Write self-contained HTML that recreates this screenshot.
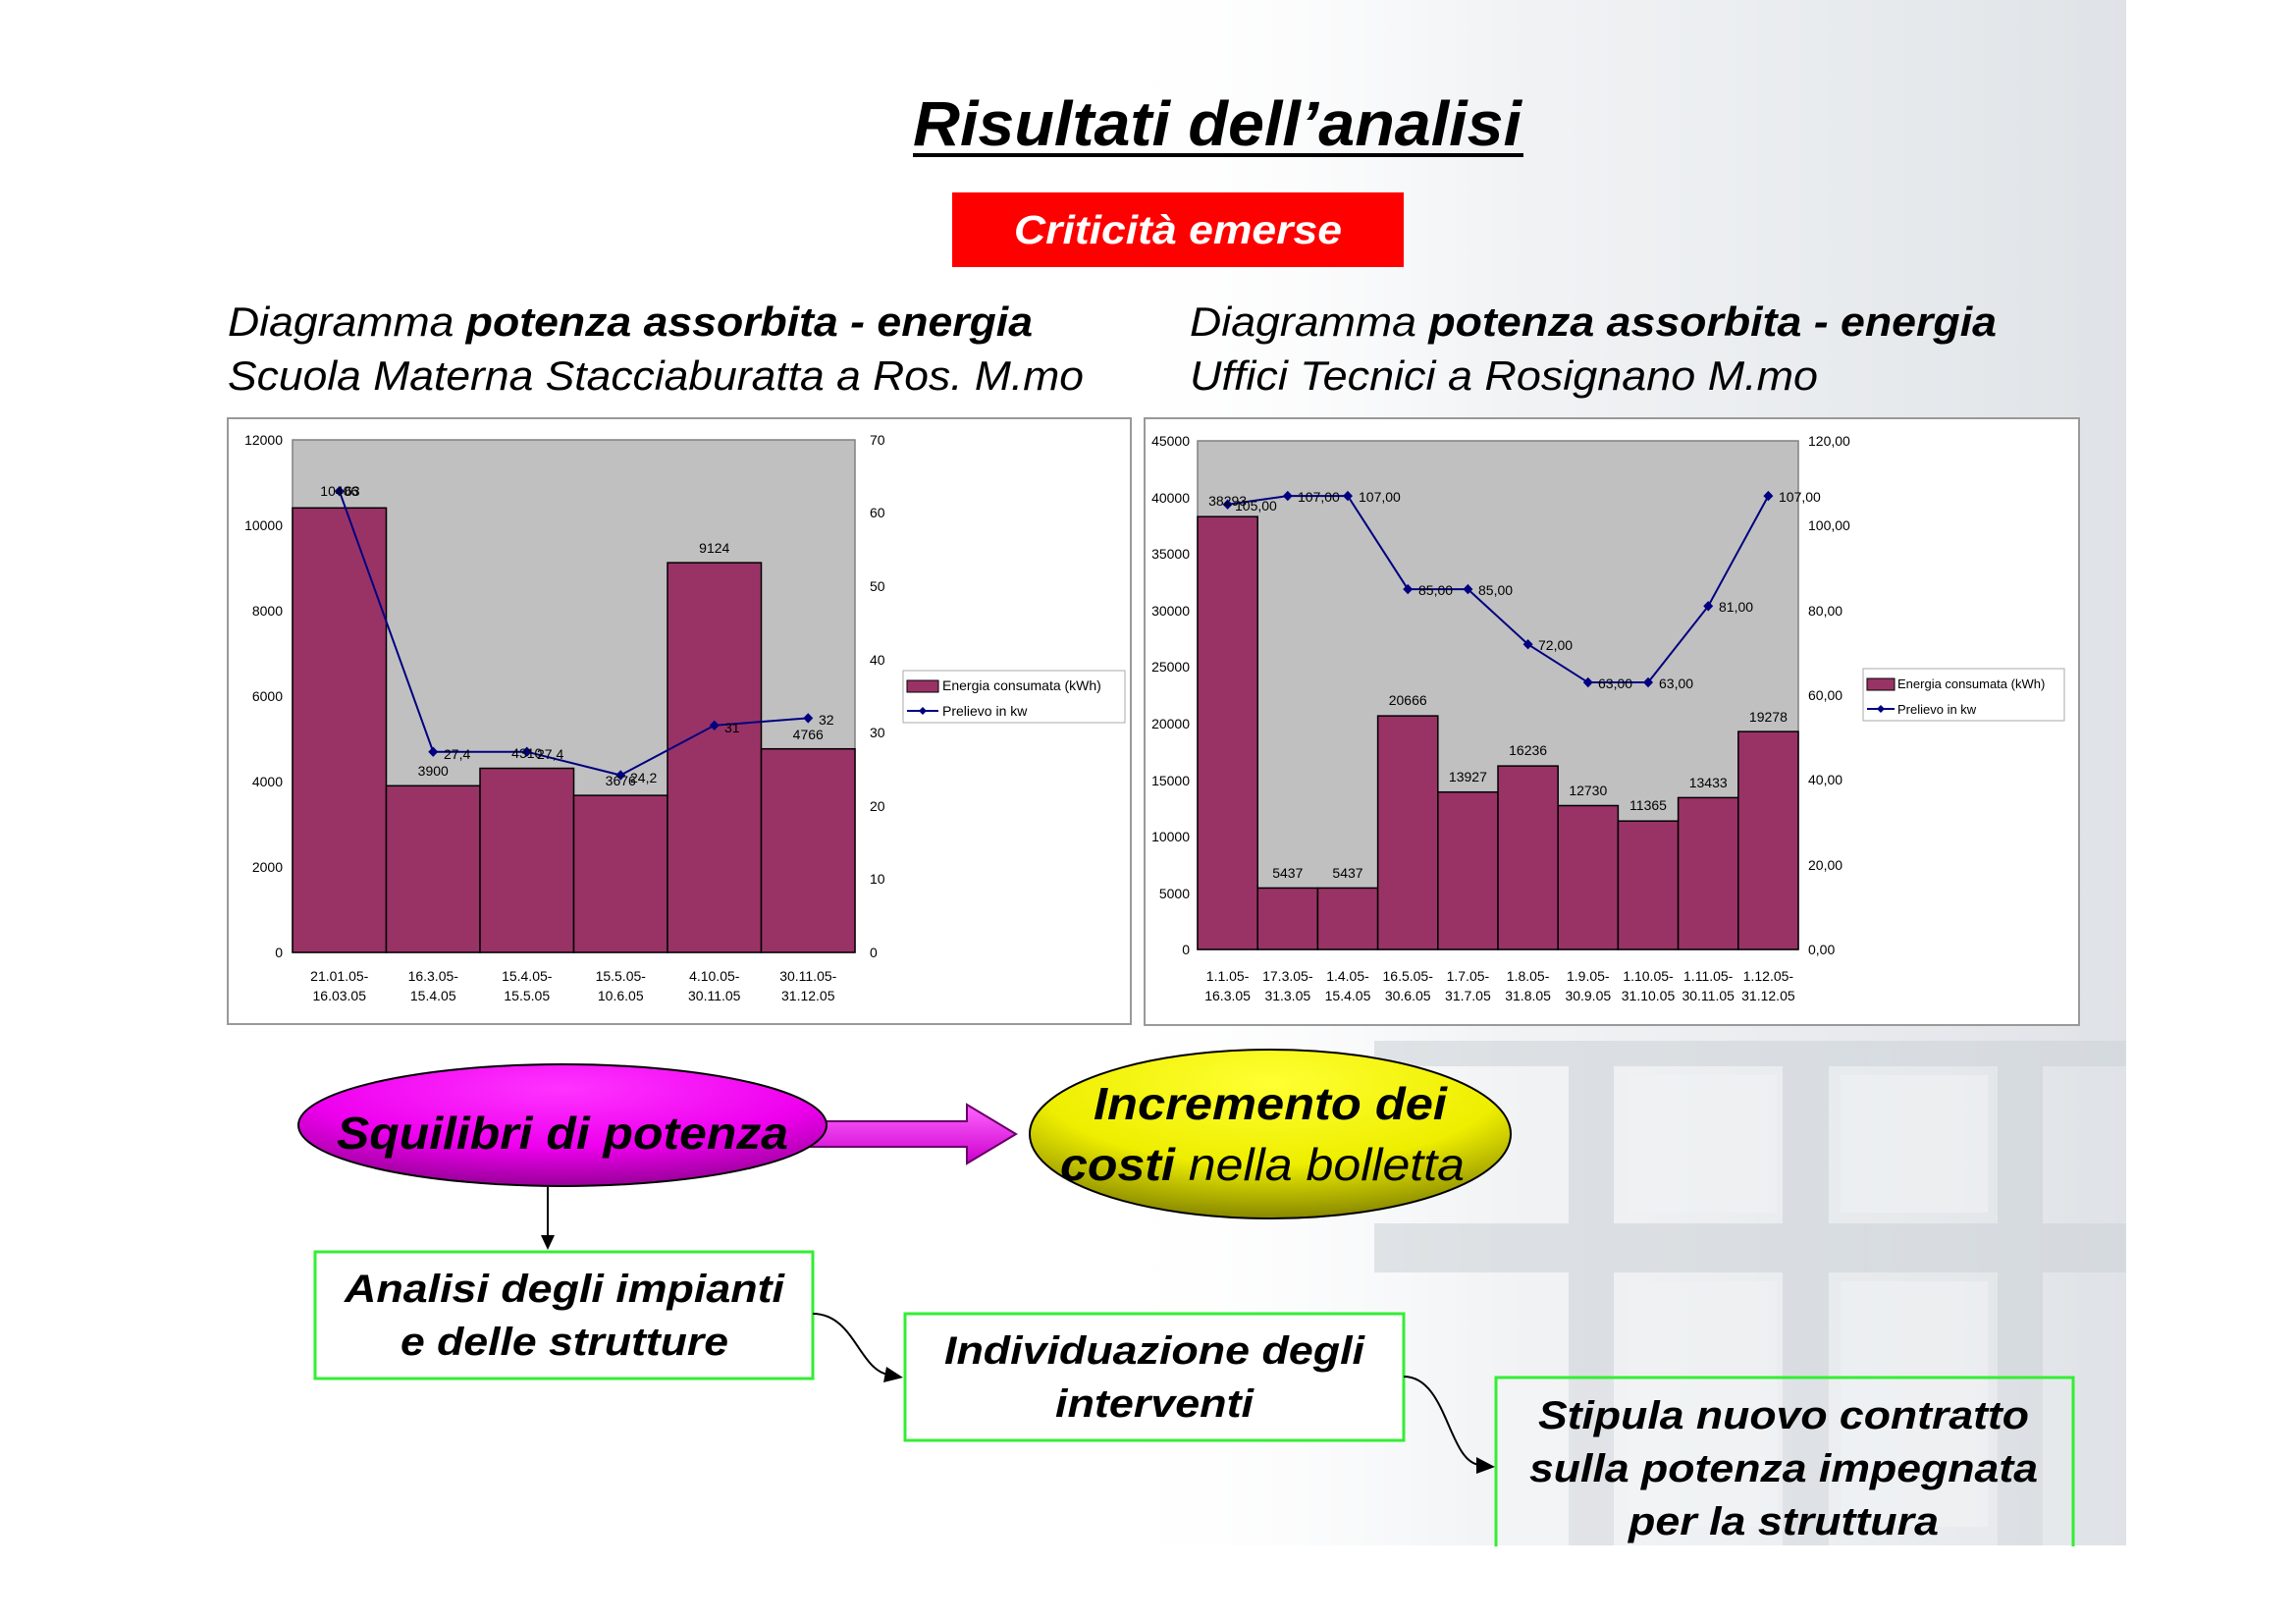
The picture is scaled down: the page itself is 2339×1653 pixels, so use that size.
<!DOCTYPE html>
<html><head><meta charset="utf-8"><style>
html,body{margin:0;padding:0;background:#fff;}
svg{display:block;font-family:"Liberation Sans",Arial,sans-serif;}
</style></head><body>
<svg width="2339" height="1653" viewBox="0 0 2339 1653" xmlns="http://www.w3.org/2000/svg">
<defs>
<linearGradient id="bgfade" x1="0" y1="0" x2="1" y2="0">
<stop offset="0" stop-color="#fff" stop-opacity="0"/>
<stop offset="0.4" stop-color="#e8ebee" stop-opacity="0.6"/>
<stop offset="1" stop-color="#dfe3e7" stop-opacity="1"/>
</linearGradient>
<radialGradient id="mag" cx="0.5" cy="0.2" r="0.8">
<stop offset="0" stop-color="#ff33ff"/><stop offset="0.6" stop-color="#ee00ee"/><stop offset="1" stop-color="#990099"/>
</radialGradient>
<radialGradient id="yel" cx="0.5" cy="0.2" r="0.8">
<stop offset="0" stop-color="#ffff33"/><stop offset="0.6" stop-color="#eeee00"/><stop offset="1" stop-color="#888800"/>
</radialGradient>
<linearGradient id="arr" x1="0" y1="0" x2="0" y2="1">
<stop offset="0" stop-color="#ff66ff"/><stop offset="1" stop-color="#cc00cc"/>
</linearGradient>
</defs>
<rect x="0" y="0" width="2339" height="1653" fill="#fff"/>
<rect x="1100" y="0" width="1066" height="1574" fill="url(#bgfade)"/>
<g fill="#cfd4d9" opacity="0.6">
<rect x="1598" y="1060" width="46" height="514"/>
<rect x="1816" y="1060" width="47" height="514"/>
<rect x="2035" y="1060" width="46" height="514"/>
<rect x="1400" y="1246" width="766" height="50"/>
<rect x="1400" y="1060" width="766" height="26"/>
</g>
<g fill="#f0f2f4" opacity="0.6">
<rect x="1660" y="1095" width="150" height="140"/>
<rect x="1875" y="1095" width="150" height="140"/>
<rect x="1660" y="1305" width="150" height="250"/>
<rect x="1875" y="1305" width="150" height="250"/>
</g>

<text x="1240" y="148" font-size="64" font-weight="bold" font-style="italic" text-anchor="middle" fill="#000" textLength="620" lengthAdjust="spacingAndGlyphs">Risultati dell’analisi</text>
<rect x="930" y="156" width="622" height="4" fill="#000"/>
<rect x="970" y="196" width="460" height="76" fill="#ff0000"/>
<text x="1200" y="248" font-size="41" font-weight="bold" font-style="italic" text-anchor="middle" fill="#fff" textLength="334" lengthAdjust="spacingAndGlyphs">Criticità emerse</text>

<g font-size="42" font-style="italic" fill="#000">
<text x="232" y="342" textLength="820" lengthAdjust="spacingAndGlyphs">Diagramma <tspan font-weight="bold">potenza assorbita - energia</tspan></text>
<text x="232" y="397" textLength="872" lengthAdjust="spacingAndGlyphs">Scuola Materna Stacciaburatta a Ros. M.mo</text>
<text x="1212" y="342" textLength="822" lengthAdjust="spacingAndGlyphs">Diagramma <tspan font-weight="bold">potenza assorbita - energia</tspan></text>
<text x="1212" y="397" textLength="640" lengthAdjust="spacingAndGlyphs">Uffici Tecnici a Rosignano M.mo</text>
</g>

<!-- CHART 1 -->
<rect x="232" y="426" width="920" height="617" fill="#fff" stroke="#999" stroke-width="2"/>
<rect x="298" y="448" width="573" height="522" fill="#c0c0c0" stroke="#808080" stroke-width="1.5"/>
<g fill="#993366" stroke="#000" stroke-width="1.5">
<rect x="298" y="517.3" width="95.5" height="452.7"/>
<rect x="393.5" y="800.3" width="95.5" height="169.7"/>
<rect x="489" y="782.5" width="95.5" height="187.5"/>
<rect x="584.5" y="810.1" width="95.5" height="159.9"/>
<rect x="680" y="573.1" width="95.5" height="396.9"/>
<rect x="775.5" y="762.7" width="95.5" height="207.3"/>
</g>
<polyline points="345.75,500.2 441.25,765.7 536.75,765.7 632.25,789.5 727.75,738.8 823.25,731.4" fill="none" stroke="#000080" stroke-width="2"/>
<g fill="#000080">
<path d="M345.75 495l5 5.2-5 5.2-5-5.2z"/><path d="M441.25 760.5l5 5.2-5 5.2-5-5.2z"/><path d="M536.75 760.5l5 5.2-5 5.2-5-5.2z"/><path d="M632.25 784.3l5 5.2-5 5.2-5-5.2z"/><path d="M727.75 733.6l5 5.2-5 5.2-5-5.2z"/><path d="M823.25 726.2l5 5.2-5 5.2-5-5.2z"/>
</g>
<g font-size="14" fill="#000">
<g text-anchor="end">
<text x="288" y="975">0</text><text x="288" y="888">2000</text><text x="288" y="801">4000</text><text x="288" y="714">6000</text><text x="288" y="627">8000</text><text x="288" y="540">10000</text><text x="288" y="453">12000</text>
</g>
<text x="886" y="975">0</text><text x="886" y="900">10</text><text x="886" y="826">20</text><text x="886" y="751">30</text><text x="886" y="677">40</text><text x="886" y="602">50</text><text x="886" y="527">60</text><text x="886" y="453">70</text>
<g text-anchor="middle">
<text x="345.75" y="999">21.01.05-</text><text x="345.75" y="1019">16.03.05</text>
<text x="441.25" y="999">16.3.05-</text><text x="441.25" y="1019">15.4.05</text>
<text x="536.75" y="999">15.4.05-</text><text x="536.75" y="1019">15.5.05</text>
<text x="632.25" y="999">15.5.05-</text><text x="632.25" y="1019">10.6.05</text>
<text x="727.75" y="999">4.10.05-</text><text x="727.75" y="1019">30.11.05</text>
<text x="823.25" y="999">30.11.05-</text><text x="823.25" y="1019">31.12.05</text>
<text x="345.75" y="505">10406</text>
<text x="441.25" y="790">3900</text>
<text x="536.75" y="772">4310</text>
<text x="632.25" y="800">3676</text>
<text x="727.75" y="563">9124</text>
<text x="823.25" y="753">4766</text>
</g>
<text x="351" y="505">63</text><text x="452" y="773">27,4</text><text x="547" y="773">27,4</text><text x="642" y="797">24,2</text><text x="738" y="746">31</text><text x="834" y="738">32</text>
</g>
<rect x="920" y="683" width="226" height="53" fill="#fff" stroke="#aaa" stroke-width="1"/>
<rect x="924" y="693" width="32" height="12" fill="#993366" stroke="#000" stroke-width="1"/>
<text x="960" y="703" font-size="14">Energia consumata (kWh)</text>
<line x1="924" y1="724" x2="956" y2="724" stroke="#000080" stroke-width="2"/>
<path d="M940 720l4 4-4 4-4-4z" fill="#000080"/>
<text x="960" y="729" font-size="14">Prelievo in kw</text>

<!-- CHART 2 -->
<rect x="1166" y="426" width="952" height="618" fill="#fff" stroke="#999" stroke-width="2"/>
<rect x="1220" y="449" width="612" height="518" fill="#c0c0c0" stroke="#808080" stroke-width="1.5"/>
<g fill="#993366" stroke="#000" stroke-width="1.5">
<rect x="1220" y="526.2" width="61.2" height="440.8"/>
<rect x="1281.2" y="904.4" width="61.2" height="62.6"/>
<rect x="1342.4" y="904.4" width="61.2" height="62.6"/>
<rect x="1403.6" y="729.1" width="61.2" height="237.9"/>
<rect x="1464.8" y="806.7" width="61.2" height="160.3"/>
<rect x="1526" y="780.1" width="61.2" height="186.9"/>
<rect x="1587.2" y="820.5" width="61.2" height="146.5"/>
<rect x="1648.4" y="836.2" width="61.2" height="130.8"/>
<rect x="1709.6" y="812.4" width="61.2" height="154.6"/>
<rect x="1770.8" y="745.1" width="61.2" height="221.9"/>
</g>
<polyline points="1250.6,513.75 1311.8,505.1 1373,505.1 1434.2,600.1 1495.4,600.1 1556.6,656.2 1617.8,695.05 1679,695.05 1740.2,617.35 1801.4,505.1" fill="none" stroke="#000080" stroke-width="2"/>
<g fill="#000080">
<path d="M1250.6 508.5l5 5.2-5 5.2-5-5.2z"/><path d="M1311.8 499.9l5 5.2-5 5.2-5-5.2z"/><path d="M1373 499.9l5 5.2-5 5.2-5-5.2z"/><path d="M1434.2 594.9l5 5.2-5 5.2-5-5.2z"/><path d="M1495.4 594.9l5 5.2-5 5.2-5-5.2z"/><path d="M1556.6 651l5 5.2-5 5.2-5-5.2z"/><path d="M1617.8 689.8l5 5.2-5 5.2-5-5.2z"/><path d="M1679 689.8l5 5.2-5 5.2-5-5.2z"/><path d="M1740.2 612.1l5 5.2-5 5.2-5-5.2z"/><path d="M1801.4 499.9l5 5.2-5 5.2-5-5.2z"/>
</g>
<g font-size="14" fill="#000">
<g text-anchor="end">
<text x="1212" y="972">0</text><text x="1212" y="915">5000</text><text x="1212" y="857">10000</text><text x="1212" y="800">15000</text><text x="1212" y="742">20000</text><text x="1212" y="684">25000</text><text x="1212" y="627">30000</text><text x="1212" y="569">35000</text><text x="1212" y="512">40000</text><text x="1212" y="454">45000</text>
</g>
<text x="1842" y="972">0,00</text><text x="1842" y="886">20,00</text><text x="1842" y="799">40,00</text><text x="1842" y="713">60,00</text><text x="1842" y="627">80,00</text><text x="1842" y="540">100,00</text><text x="1842" y="454">120,00</text>
<g text-anchor="middle">
<text x="1250.6" y="999">1.1.05-</text><text x="1250.6" y="1019">16.3.05</text>
<text x="1311.8" y="999">17.3.05-</text><text x="1311.8" y="1019">31.3.05</text>
<text x="1373" y="999">1.4.05-</text><text x="1373" y="1019">15.4.05</text>
<text x="1434.2" y="999">16.5.05-</text><text x="1434.2" y="1019">30.6.05</text>
<text x="1495.4" y="999">1.7.05-</text><text x="1495.4" y="1019">31.7.05</text>
<text x="1556.6" y="999">1.8.05-</text><text x="1556.6" y="1019">31.8.05</text>
<text x="1617.8" y="999">1.9.05-</text><text x="1617.8" y="1019">30.9.05</text>
<text x="1679" y="999">1.10.05-</text><text x="1679" y="1019">31.10.05</text>
<text x="1740.2" y="999">1.11.05-</text><text x="1740.2" y="1019">30.11.05</text>
<text x="1801.4" y="999">1.12.05-</text><text x="1801.4" y="1019">31.12.05</text>
<text x="1250.6" y="515">38293</text>
<text x="1311.8" y="894">5437</text><text x="1373" y="894">5437</text>
<text x="1434.2" y="718">20666</text><text x="1495.4" y="796">13927</text><text x="1556.6" y="769">16236</text>
<text x="1617.8" y="810">12730</text><text x="1679" y="825">11365</text><text x="1740.2" y="802">13433</text><text x="1801.4" y="735">19278</text>
</g>
<text x="1258" y="520">105,00</text><text x="1322" y="511">107,00</text><text x="1384" y="511">107,00</text>
<text x="1445" y="606">85,00</text><text x="1506" y="606">85,00</text><text x="1567" y="662">72,00</text>
<text x="1628" y="701">63,00</text><text x="1690" y="701">63,00</text><text x="1751" y="623">81,00</text><text x="1812" y="511">107,00</text>
</g>
<rect x="1898" y="681" width="205" height="53" fill="#fff" stroke="#aaa" stroke-width="1"/>
<rect x="1902" y="691" width="28" height="12" fill="#993366" stroke="#000" stroke-width="1"/>
<text x="1933" y="701" font-size="13">Energia consumata (kWh)</text>
<line x1="1902" y1="722" x2="1930" y2="722" stroke="#000080" stroke-width="2"/>
<path d="M1916 718l4 4-4 4-4-4z" fill="#000080"/>
<text x="1933" y="727" font-size="13">Prelievo in kw</text>

<!-- flow diagram -->
<path d="M825 1142 H985 V1125 L1035 1155 L985 1185 V1168 H825 Z" fill="url(#arr)" stroke="#660066" stroke-width="2"/>
<ellipse cx="573" cy="1146" rx="269" ry="62" fill="url(#mag)" stroke="#000" stroke-width="2"/>
<text x="573" y="1170" font-size="46" font-weight="bold" font-style="italic" text-anchor="middle" textLength="460" lengthAdjust="spacingAndGlyphs">Squilibri di potenza</text>
<ellipse cx="1294" cy="1155" rx="245" ry="86" fill="url(#yel)" stroke="#000" stroke-width="2"/>
<text x="1294" y="1140" font-size="46" font-weight="bold" font-style="italic" text-anchor="middle" textLength="360" lengthAdjust="spacingAndGlyphs">Incremento dei</text>
<text x="1286" y="1202" font-size="46" font-style="italic" text-anchor="middle" textLength="412" lengthAdjust="spacingAndGlyphs"><tspan font-weight="bold">costi</tspan> nella bolletta</text>

<line x1="558" y1="1209" x2="558" y2="1260" stroke="#000" stroke-width="2"/>
<path d="M551 1258 L558 1273 L565 1258 Z" fill="#000"/>

<rect x="321" y="1275" width="507" height="129" fill="#fff" stroke="#33ee33" stroke-width="3"/>
<g font-size="40" font-weight="bold" font-style="italic" text-anchor="middle">
<text x="575" y="1326" textLength="448" lengthAdjust="spacingAndGlyphs">Analisi degli impianti</text>
<text x="575" y="1380" textLength="334" lengthAdjust="spacingAndGlyphs">e delle strutture</text>
</g>
<path d="M828 1338 C870 1338 875 1395 905 1400" fill="none" stroke="#000" stroke-width="2"/>
<path d="M903 1392 L920 1403 L900 1408 Z" fill="#000"/>

<rect x="922" y="1338" width="508" height="129" fill="#fff" stroke="#33ee33" stroke-width="3"/>
<g font-size="40" font-weight="bold" font-style="italic" text-anchor="middle">
<text x="1176" y="1389" textLength="428" lengthAdjust="spacingAndGlyphs">Individuazione degli</text>
<text x="1176" y="1443" textLength="202" lengthAdjust="spacingAndGlyphs">interventi</text>
</g>
<path d="M1430 1402 C1475 1402 1475 1490 1508 1492" fill="none" stroke="#000" stroke-width="2"/>
<path d="M1504 1484 L1523 1494 L1504 1501 Z" fill="#000"/>

<rect x="1524" y="1403" width="588" height="185" fill="#fff" fill-opacity="0.15" stroke="#33ee33" stroke-width="3"/>
<rect x="1520" y="1575" width="600" height="20" fill="#fff"/>
<g font-size="40" font-weight="bold" font-style="italic" text-anchor="middle">
<text x="1817" y="1455" textLength="500" lengthAdjust="spacingAndGlyphs">Stipula nuovo contratto</text>
<text x="1817" y="1509" textLength="518" lengthAdjust="spacingAndGlyphs">sulla potenza impegnata</text>
<text x="1817" y="1563" textLength="316" lengthAdjust="spacingAndGlyphs">per la struttura</text>
</g>
</svg>
</body></html>
